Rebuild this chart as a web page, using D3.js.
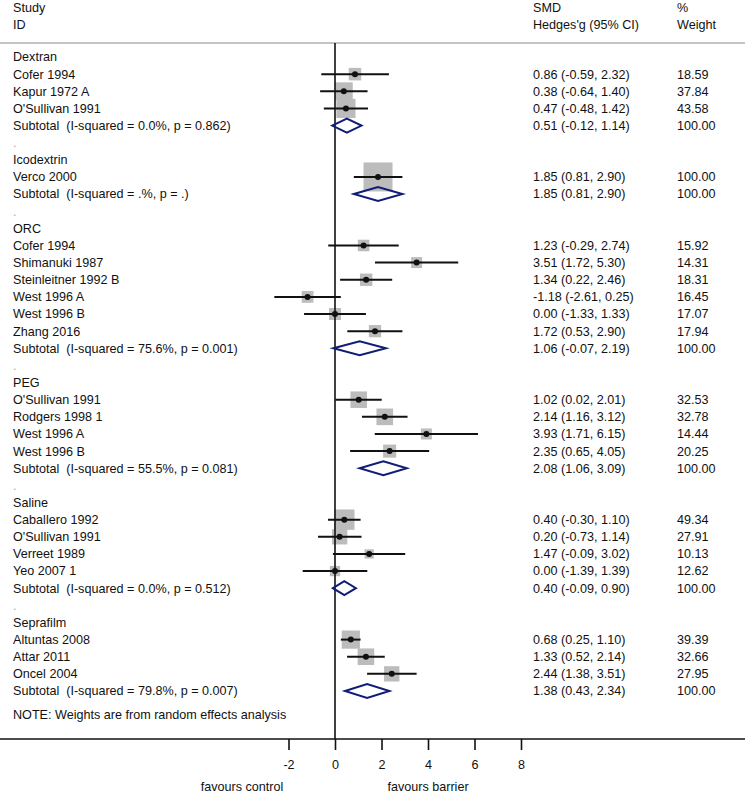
<!DOCTYPE html>
<html><head><meta charset="utf-8">
<script src="https://cdn.jsdelivr.net/npm/d3@7"></script>
<style>
html,body{margin:0;padding:0;background:#fff;}
svg text{font-family:"Liberation Sans",Arial,sans-serif;font-size:12.6px;fill:#111;white-space:pre;}
</style></head>
<body><svg id="c" width="745" height="794"></svg>
<script>
// ---- data ----
const groups = ["Dextran","Icodextrin","ORC","PEG","Saline","Seprafilm"];
const studyGroup = [0,0,0, 1, 2,2,2,2,2,2, 3,3,3,3, 4,4,4,4, 5,5,5];
const studyNames = ["Cofer 1994","Kapur 1972 A","O'Sullivan 1991",
  "Verco 2000",
  "Cofer 1994","Shimanuki 1987","Steinleitner 1992 B","West 1996 A","West 1996 B","Zhang 2016",
  "O'Sullivan 1991","Rodgers 1998 1","West 1996 A","West 1996 B",
  "Caballero 1992","O'Sullivan 1991","Verreet 1989","Yeo 2007 1",
  "Altuntas 2008","Attar 2011","Oncel 2004"];
const studyES = [0.86,0.38,0.47, 1.85, 1.23,3.51,1.34,-1.18,0.00,1.72, 1.02,2.14,3.93,2.35, 0.40,0.20,1.47,0.00, 0.68,1.33,2.44];
const studyLo = [-0.59,-0.64,-0.48, 0.81, -0.29,1.72,0.22,-2.61,-1.33,0.53, 0.02,1.16,1.71,0.65, -0.30,-0.73,-0.09,-1.39, 0.25,0.52,1.38];
const studyHi = [2.32,1.40,1.42, 2.90, 2.74,5.30,2.46,0.25,1.33,2.90, 2.01,3.12,6.15,4.05, 1.10,1.14,3.02,1.39, 1.10,2.14,3.51];
const studyWeight = [18.59,37.84,43.58, 100.00, 15.92,14.31,18.31,16.45,17.07,17.94, 32.53,32.78,14.44,20.25, 49.34,27.91,10.13,12.62, 39.39,32.66,27.95];
const subLabels = ["Subtotal  (I-squared = 0.0%, p = 0.862)","Subtotal  (I-squared = .%, p = .)",
  "Subtotal  (I-squared = 75.6%, p = 0.001)","Subtotal  (I-squared = 55.5%, p = 0.081)",
  "Subtotal  (I-squared = 0.0%, p = 0.512)","Subtotal  (I-squared = 79.8%, p = 0.007)"];
const subES = [0.51,1.85,1.06,2.08,0.40,1.38];
const subLo = [-0.12,0.81,-0.07,1.06,-0.09,0.43];
const subHi = [1.14,2.90,2.19,3.09,0.90,2.34];
const xTicks = [-2,0,2,4,6,8];
const headers = {study:["Study","ID"], es:["SMD","Hedges'g (95% CI)"], w:["%","Weight"]};
const note = "NOTE: Weights are from random effects analysis";
const favours = [{v:-4,t:"favours control"},{v:4,t:"favours barrier"}];

// ---- build rows ----
const rows = [];
groups.forEach((g,gi)=>{
  if(gi>0) rows.push({type:"dot"});
  rows.push({type:"group",label:g});
  studyNames.forEach((n,i)=>{ if(studyGroup[i]===gi) rows.push({type:"study",label:n,es:studyES[i],lo:studyLo[i],hi:studyHi[i],w:studyWeight[i]}); });
  rows.push({type:"sub",label:subLabels[gi],es:subES[gi],lo:subLo[gi],hi:subHi[gi],w:100});
});
rows.forEach((r,i)=>r.i=i);

const svg = d3.select("#c");
const x = d3.scaleLinear().domain([-2,8]).range([288.5,521]);
const y = d3.scaleLinear().domain([0,rows.length-1]).range([57,691]);
const boxSize = d3.scaleSqrt().domain([0,100]).range([0,29]);
const fmt = v => v.toFixed(2);
const xText = 13, xES = 533, xW = 677;
const axisY = 739;

// header
svg.append("line").attr("x1",0).attr("x2",745).attr("y1",43).attr("y2",43).attr("stroke","#c4c4c4").attr("stroke-width",2);
[[xText,"study"],[xES,"es"],[xW,"w"]].forEach(([xx,k])=>{
  headers[k].forEach((t,j)=>svg.append("text").attr("x",xx).attr("y",8+j*17).attr("dy","0.35em").text(t));
});

// boxes
const studies = rows.filter(r=>r.type==="study");
svg.append("g").selectAll("rect").data(studies).join("rect")
  .attr("x",d=>x(d.es)-boxSize(d.w)/2).attr("y",d=>y(d.i)-boxSize(d.w)/2)
  .attr("width",d=>boxSize(d.w)).attr("height",d=>boxSize(d.w)).attr("fill","#bcbcbc");

// zero line
svg.append("line").attr("x1",x(0)).attr("x2",x(0)).attr("y1",43).attr("y2",axisY).attr("stroke","#111").attr("stroke-width",1.6);

// CI lines and points
svg.append("g").selectAll("line").data(studies).join("line")
  .attr("x1",d=>x(d.lo)).attr("x2",d=>x(d.hi)).attr("y1",d=>y(d.i)).attr("y2",d=>y(d.i))
  .attr("stroke","#111").attr("stroke-width",2);
svg.append("g").selectAll("circle").data(studies).join("circle")
  .attr("cx",d=>x(d.es)).attr("cy",d=>y(d.i)).attr("r",3).attr("fill","#111");

// diamonds
const subs = rows.filter(r=>r.type==="sub");
svg.append("g").selectAll("path").data(subs).join("path")
  .attr("d",d=>{const yy=y(d.i),h=7;return `M${x(d.lo)},${yy}L${x(d.es)},${yy-h}L${x(d.hi)},${yy}L${x(d.es)},${yy+h}Z`;})
  .attr("fill","none").attr("stroke","#101c78").attr("stroke-width",2);

// left labels
svg.append("g").selectAll("text").data(rows).join("text")
  .attr("x",xText).attr("y",d=>y(d.i)).attr("dy","0.35em")
  .style("fill",d=>d.type==="dot"?"#aaa":null)
  .text(d=>d.type==="dot"?".":d.label);
// estimates
const est = rows.filter(r=>r.type==="study"||r.type==="sub");
svg.append("g").selectAll("text").data(est).join("text")
  .attr("x",xES).attr("y",d=>y(d.i)).attr("dy","0.35em")
  .text(d=>`${fmt(d.es)} (${fmt(d.lo)}, ${fmt(d.hi)})`);
svg.append("g").selectAll("text").data(est).join("text")
  .attr("x",xW).attr("y",d=>y(d.i)).attr("dy","0.35em")
  .text(d=>fmt(d.w));

// note
svg.append("text").attr("x",xText).attr("y",715).attr("dy","0.35em").text(note);

// axis
svg.append("line").attr("x1",0).attr("x2",745).attr("y1",axisY).attr("y2",axisY).attr("stroke","#111").attr("stroke-width",1.6);
const ax = svg.append("g").attr("transform",`translate(0,${axisY})`)
  .call(d3.axisBottom(x).tickValues(xTicks).tickSize(11).tickPadding(10).tickFormat(d=>String(d)));
ax.select(".domain").remove();
ax.selectAll(".tick line").attr("stroke","#111").attr("stroke-width",1.6);
ax.selectAll(".tick text").style("font-size","12.6px").style("font-family","Liberation Sans, Arial, sans-serif").attr("fill","#111");
svg.append("g").selectAll("text").data(favours).join("text")
  .attr("x",d=>x(d.v)).attr("y",787).attr("dy","0.35em").attr("text-anchor","middle").text(d=>d.t);
</script></body></html>
